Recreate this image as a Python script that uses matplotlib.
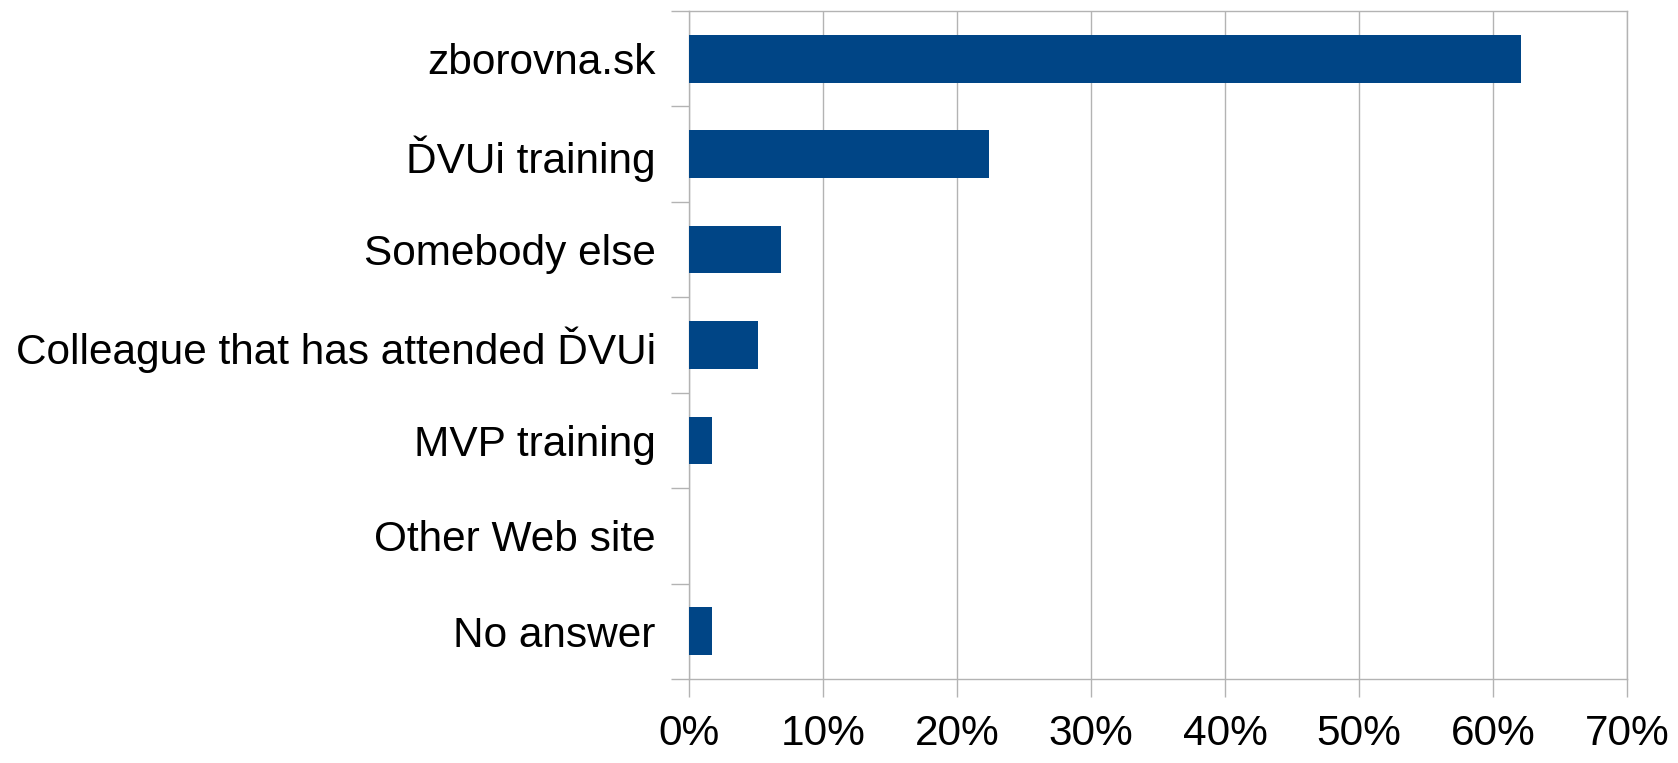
import matplotlib
matplotlib.use("Agg")
import matplotlib.pyplot as plt
from matplotlib.ticker import FixedLocator, PercentFormatter

categories = ["zborovna.sk", "ĎVUi training", "Somebody else",
              "Colleague that has attended ĎVUi", "MVP training",
              "Other Web site", "No answer"]
values = [62.07, 22.41, 6.90, 5.17, 1.72, 0.0, 1.72]
xticks = [0, 10, 20, 30, 40, 50, 60, 70]

plt.rcParams['font.family'] = ['Liberation Sans', 'DejaVu Sans']
grid_c = "#b3b3b3"

fig = plt.figure(figsize=(16.78, 7.63), dpi=100)
ax = fig.add_axes([689/1678, 1 - 679/763, (1627-689)/1678, (679-11)/763])

n = len(categories)
ypos = list(range(n))
ax.barh(ypos, values, height=0.5, color="#004586", zorder=3)
ax.set_ylim(n - 0.5, -0.5)
ax.set_xlim(0, 70)

ax.set_yticks(ypos)
ax.set_yticklabels(categories, fontsize=30.5)
ax.yaxis.set_minor_locator(FixedLocator([i - 0.5 for i in range(n + 1)]))
ax.tick_params(axis="y", which="major", length=0, pad=24)
ax.tick_params(axis="y", which="minor", length=13, color=grid_c, width=1)

ax.set_xticks(xticks)
ax.xaxis.set_major_formatter(PercentFormatter(decimals=0))
ax.tick_params(axis="x", which="major", length=13, color=grid_c, width=1,
               labelsize=30.5, pad=12)
ax.grid(axis="x", color=grid_c, linewidth=1, zorder=0)

for s in ax.spines.values():
    s.set_color(grid_c)
    s.set_linewidth(1)

fig.savefig("out.png", dpi=100, facecolor="white")
